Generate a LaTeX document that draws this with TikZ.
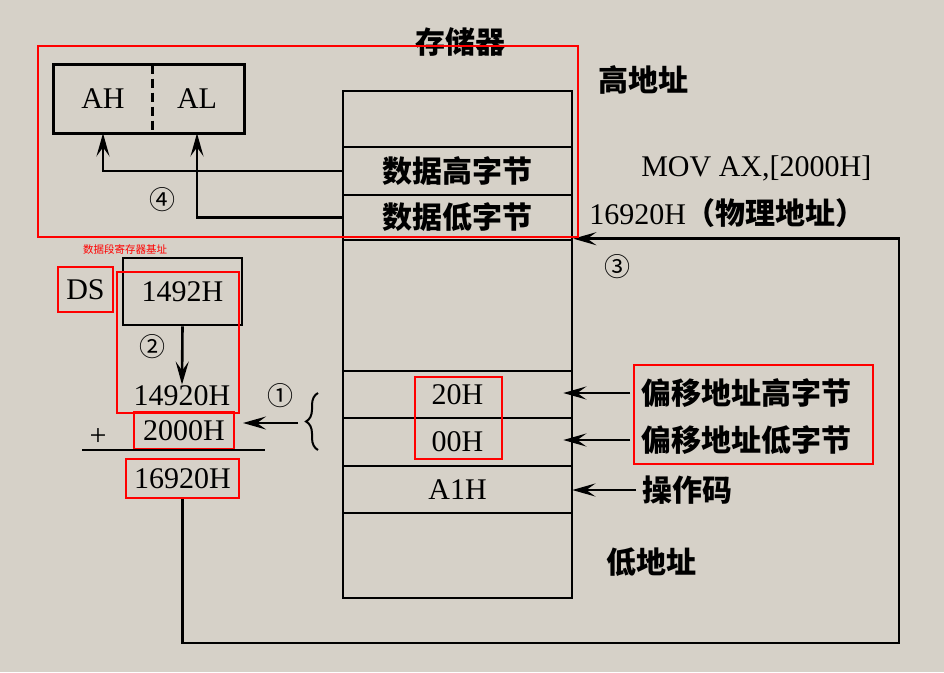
\documentclass[tikz,border=0pt]{standalone}
\usepackage{fontspec}
\setmainfont{Liberation Serif}
\newfontfamily\cjk{Noto Sans CJK SC}
\usetikzlibrary{arrows.meta}
\usetikzlibrary{decorations.pathreplacing}
\definecolor{paper}{RGB}{214,209,200}

\begin{document}
\begin{tikzpicture}[x=1pt,y=-1pt,
            line width=2.6pt,
            cell/.style={draw, minimum width=229pt, inner sep=0pt},
            txt/.style={inner sep=0pt, font=\fontsize{30}{34}\selectfont},
            zh/.style={inner sep=0pt, font=\cjk\bfseries\fontsize{30}{34}\selectfont},
            num/.style={inner sep=0pt, font=\cjk\fontsize{26}{30}\selectfont},
            redbox/.style={draw=red, line width=2pt},
            arr/.style={-{Stealth[length=23pt,width=13pt,inset=9pt]}},
            ]
            \useasboundingbox[fill=paper] (0,0) rectangle (944,672);

            % memory column
            \node[cell, minimum height=56pt] (ctop) at (457.5,119) {};
            \node[cell, zh, minimum height=48pt] (chi) at (457.5,171) {数据高字节};
            \node[cell, zh, minimum height=45pt] (clo) at (457.5,217.5) {数据低字节};
            \node[cell, minimum height=131pt] (cemp) at (457.5,305.5) {};
            \node[cell, txt, minimum height=47pt] (c20) at (457.5,394.5) {20H};
            \node[cell, txt, minimum height=48pt] (c00) at (457.5,442) {00H};
            \node[cell, txt, minimum height=47pt] (ca1) at (457.5,489.5) {A1H};
            \node[cell, minimum height=85pt] (cbot) at (457.5,555.5) {};

            \node[zh] (mem) at (460,42) {存储器};
            \node[zh] (high) at (643,80) {高地址};
            \node[zh] (low) at (651,562) {低地址};
            \node[txt, anchor=west] (mov) at (640,168) {MOV AX,[2000H]};
            \node[txt, anchor=west] (physlbl) at (588,213) {16920H{\cjk\bfseries（物理地址）}};

            % AX register
            \node[txt, minimum width=96pt, minimum height=66pt] (ah) at (103,99) {AH};
            \node[txt, minimum width=92pt, minimum height=66pt] (al) at (197,99) {AL};
            \draw (ah.north west) rectangle (al.south east);
            \draw[dash pattern=on 9pt off 5pt] (ah.north east) -- (ah.south east);
            \draw[arr] (chi.west) -| (ah.south);
            \draw[arr] (clo.west) -| (al.south);
            \node[num] (s4) at (162,200) {④};

            % segment address
            \node[txt, redbox, minimum width=55pt, minimum height=45pt] (ds) at (85.5,289.5) {DS};
            \node[txt, draw, minimum width=119pt, minimum height=67pt] (seg) at (182.5,291.5) {1492H};
            \node[text=red, inner sep=0pt, font=\cjk\fontsize{10.5}{12}\selectfont] (dsnote) at (125,249) {数据段寄存器基址};
            \node[txt] (shift) at (182,396) {14920H};
            \draw[arr] (seg.south) -- (shift.north);
            \node[num] (s2) at (152,347) {②};
            \node[txt, redbox, minimum width=100pt, minimum height=37pt] (off) at (184,430.5) {2000H};
            \node[txt] (plus) at (98,437) {+};
            \coordinate (ul) at (82,450);
            \draw (ul) -- ++(183,0);
            \node[txt, redbox, minimum width=113pt, minimum height=39pt] (phys) at (182.5,478.5) {16920H};
            \node[num] (s1) at (280,396) {①};
            \draw[decorate, decoration={brace, amplitude=12pt}, line width=2pt] (318,450) -- (318,393);
            \coordinate (bt) at (298,423);
            \draw[arr, shorten >=8pt] (bt) -- (bt -| off.east);

            % offset bytes
            \node[zh, anchor=west] (offhi) at (640,393) {偏移地址高字节};
            \node[zh, anchor=west] (offlo) at (640,440) {偏移地址低字节};
            \node[zh, anchor=west] (opc) at (641,490) {操作码};
            \draw[arr] ([xshift=-10pt]offhi.west) -- ([xshift=-10pt]offhi.west -| c20.east);
            \draw[arr] ([xshift=-10pt]offlo.west) -- ([xshift=-10pt]offlo.west -| c00.east);
            \draw[arr, shorten >=4pt] ([xshift=-5pt]opc.west) -- ([xshift=-5pt]opc.west -| ca1.east);

            % physical address back to memory
            \coordinate (loop) at (899,643);
            \draw[arr] (phys.south) |- (loop) |- (cemp.north east);
            \node[num] (s3) at (617,267) {③};

            % red marks
            \draw[redbox] (38,46) rectangle (578,237);
            \draw[redbox] (117,272) rectangle (239,413);
            \draw[redbox] (415,377) rectangle (502,459);
            \draw[redbox] (634,365) rectangle (873,464);
        \end{tikzpicture}
\end{document}
